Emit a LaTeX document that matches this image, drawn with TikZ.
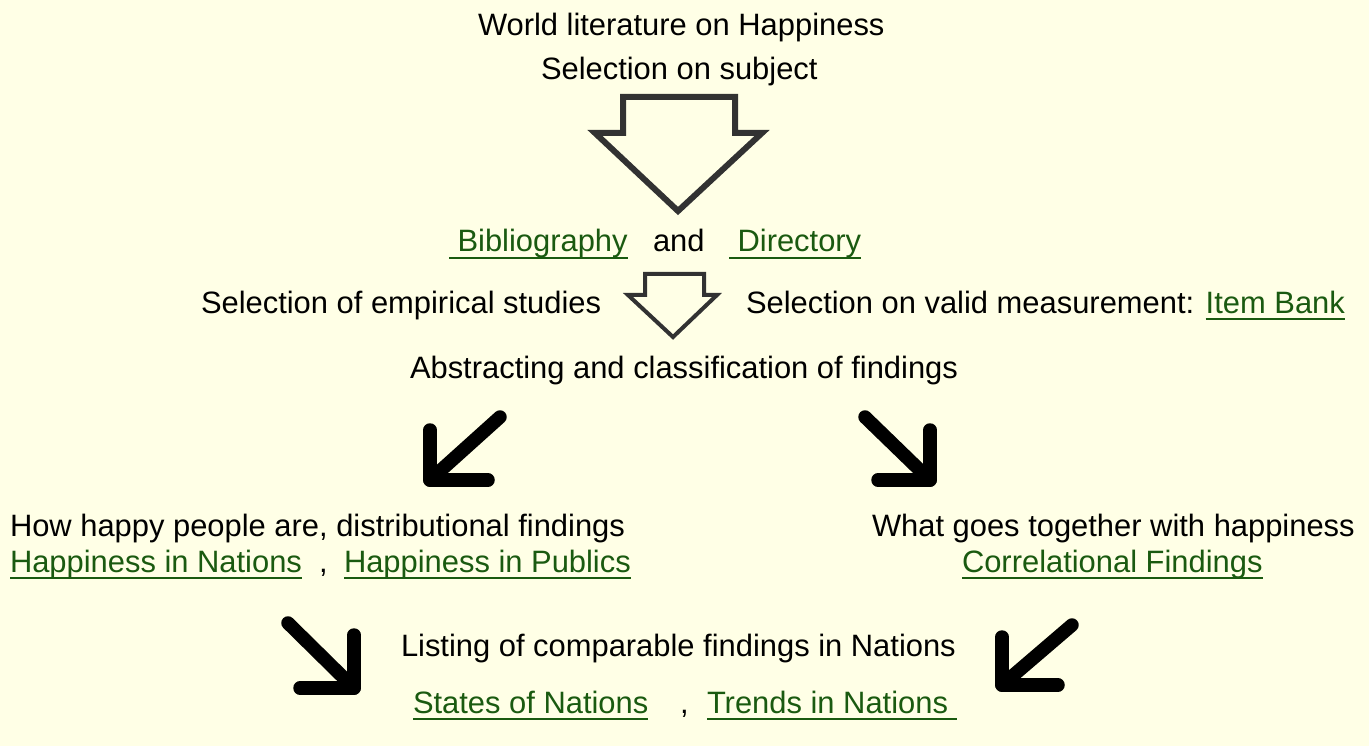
\documentclass[tikz,border=0pt]{standalone}
\usepackage{fontspec}
\setmainfont{Liberation Sans}
\definecolor{bg}{RGB}{255,255,230}
\definecolor{lg}{RGB}{26,90,16}
\definecolor{arrowgray}{RGB}{50,50,50}
\newcommand\lnk[1]{\textcolor{lg}{\setbox0\hbox{#1}\rlap{\rule[-7pt]{\wd0}{1.8pt}}\box0}}
\tikzset{
  txt/.style={inner sep=0pt, outer sep=0pt, anchor=base west, font=\fontsize{30.9}{36}\selectfont},
  hollow/.style={draw=arrowgray, fill=bg, line join=miter},
  bold/.style={draw=black, line width=13.5pt, line cap=round, line join=round}
}
\begin{document}
\begin{tikzpicture}[x=1pt,y=-1pt]
\fill[bg] (0,0) rectangle (1369,746);
\useasboundingbox (0,0) rectangle (1369,746);

% texts
\node[txt] (world) at (478,36) {World literature on Happiness};
\node[txt] (subj) at (541,80) {Selection on subject};
\node[txt] (bib) at (449,252) {\lnk{\ Bibliography}};
\node[txt] (and) at (653,252) {and};
\node[txt] (dir) at (729,252) {\lnk{\ Directory}};
\node[txt] (emp) at (201,313) {Selection of empirical studies};
\node[txt] (valid) at (746,313) {Selection on valid measurement: \lnk{Item Bank}};
\node[txt] (abs) at (410,378) {Abstracting and classification of findings};
\node[txt] (how) at (10,536) {How happy people are, distributional findings};
\node[txt] (hin) at (10,572) {\lnk{Happiness in Nations}};
\node[txt] (c1) at (319,572) {,};
\node[txt] (hip) at (344,572) {\lnk{Happiness in Publics}};
\node[txt] (what) at (872,536) {What goes together with happiness};
\node[txt] (corr) at (962,572) {\lnk{Correlational Findings}};
\node[txt] (list) at (401,656) {Listing of comparable findings in Nations};
\node[txt] (son) at (413,713) {\lnk{States of Nations}};
\node[txt] (c2) at (680,713) {,};
\node[txt] (tin) at (707,713) {\lnk{Trends in Nations\ }};

% big hollow arrow
\draw[hollow, line width=6pt] (623,97) -- (735,97) -- (735,133) -- (762,133) -- (678,211) -- (595,133) -- (623,133) -- cycle;
% small hollow arrow
\draw[hollow, line width=4pt] (645,274) -- (704,274) -- (704,295) -- (717,295) -- (673,337) -- (628,295) -- (645,295) -- cycle;

% bold black arrows
\draw[bold] (500,417) -- (430,480);
\draw[bold] (430,430) -- (430,480) -- (488,480);
\draw[bold] (865,417) -- (930,480);
\draw[bold] (930,430) -- (930,480) -- (878,480);
\draw[bold] (288,623) -- (354,688);
\draw[bold] (354,635) -- (354,688) -- (300,688);
\draw[bold] (1072,625) -- (1002,685);
\draw[bold] (1002,637) -- (1002,685) -- (1058,685);
\end{tikzpicture}
\end{document}
